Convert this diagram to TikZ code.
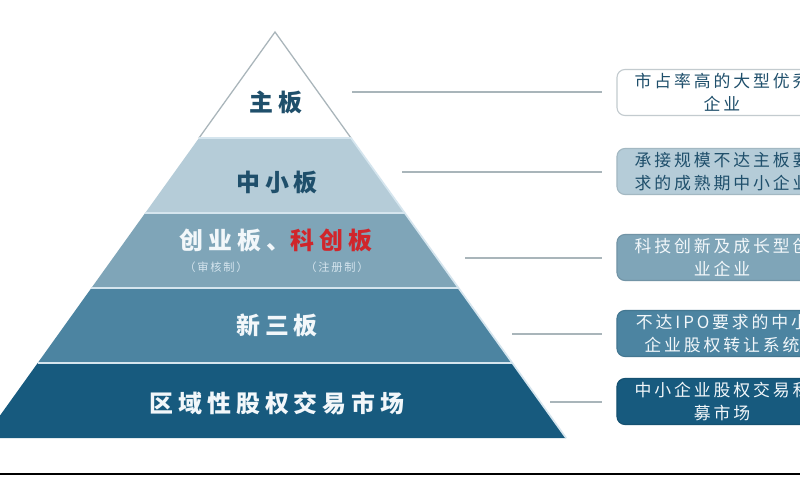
\documentclass[tikz,border=0pt]{standalone}
\usepackage{fontspec}
\usepackage{xcolor}
\newfontfamily\cjklabel[LetterSpace=21]{Noto Sans CJK SC}
\newfontfamily\cjkbox[LetterSpace=17]{Noto Sans CJK SC}
\newfontfamily\cjksmall[LetterSpace=16]{Noto Sans CJK SC}
\definecolor{tierB}{HTML}{B5CCD8}
\definecolor{tierC}{HTML}{7FA5B8}
\definecolor{tierD}{HTML}{4C84A1}
\definecolor{tierE}{HTML}{175A7E}
\definecolor{inkdark}{HTML}{1F4F6B}
\definecolor{inklight}{HTML}{F2F7FA}
\definecolor{linkgray}{HTML}{A9B5BA}
\definecolor{sepblue}{HTML}{D5E5EE}
\definecolor{kcred}{HTML}{D0262B}

\begin{document}
\begin{tikzpicture}[x=0.025cm,y=-0.025cm,
    tier/.style={font=\cjklabel\bfseries\fontsize{17}{20}\selectfont},
    small/.style={font=\cjksmall\fontsize{8}{9}\selectfont,text=sepblue},
    note/.style={rounded corners=0.2cm,line width=0.8pt,minimum width=5.25cm,minimum height=1.15cm,
        align=center,inner sep=0pt,font=\cjkbox\fontsize{12}{16.4}\selectfont},
    link/.style={draw=linkgray,line width=1.5pt,shorten >=0.35cm},
    sep/.style={draw=sepblue,line width=1.2pt}]
\useasboundingbox (0,0) rectangle (800,500);
\clip (0,0) rectangle (800,500);
\fill[white] (0,0) rectangle (800,500);

\fill[tierB] (199,138) -- (351,138) -- (404.8,213) -- (145.2,213) -- cycle;
\fill[tierC] (145.2,213) -- (404.8,213) -- (458.6,288) -- (91.4,288) -- cycle;
\fill[tierD] (91.4,288) -- (458.6,288) -- (512.3,363) -- (37.7,363) -- cycle;
\fill[tierE] (37.7,363) -- (512.3,363) -- (566.1,438) -- (-16.1,438) -- cycle;
\draw[linkgray,line width=0.9pt] (199,138) -- (275,32) -- (351,138);
\draw[sep] (351,138) -- (566.1,438);
\draw[sep] (199,138) -- (351,138);
\draw[sep] (145.2,213) -- (404.8,213);
\draw[sep] (91.4,288) -- (458.6,288);
\draw[sep] (37.7,363) -- (512.3,363);

\node[tier,text=inkdark] (zhuban) at (276,102) {主板};
\node[tier,text=inkdark] (zhongxiao) at (277,182) {中小板};
\node[tier,text=inklight] (chuangye) at (276,240) {创业板、{\color{kcred}科创板}};
\node[small] (shenhe) at (216,267) {（审核制）};
\node[small] (zhuce) at (337,267) {（注册制）};
\node[tier,text=inklight] (xinsan) at (277,325) {新三板};
\node[tier,text=inklight] (quyu) at (277,403) {区域性股权交易市场};

\node[note,draw=linkgray!70,fill=white,text=inkdark] (n1) at (722,92.5) {市占率高的大型优秀\\企业};
\node[note,draw=tierB!90!black,fill=tierB,text=inkdark] (n2) at (722,171.5) {承接规模不达主板要\\求的成熟期中小企业};
\node[note,draw=tierC!90!black,fill=tierC,text=inklight] (n3) at (722,257.5) {科技创新及成长型创\\业企业};
\node[note,draw=tierD!90!black,fill=tierD,text=inklight] (n4) at (722,333.5) {不达IPO要求的中小\\企业股权转让系统};
\node[note,draw=tierE!90!black,fill=tierE,text=inklight] (n5) at (722,401.5) {中小企业股权交易私\\募市场};

\coordinate (z1) at (352,92);
\coordinate (z2) at (402,172);
\coordinate (z3) at (465,258);
\coordinate (z4) at (512,334);
\coordinate (z5) at (550,402);
\foreach \i in {1,...,5}
    \draw[link] (z\i) -- (z\i -| n\i.west);

\draw[line width=1.4pt] (0,474) -- (800,474);
\end{tikzpicture}
\end{document}
